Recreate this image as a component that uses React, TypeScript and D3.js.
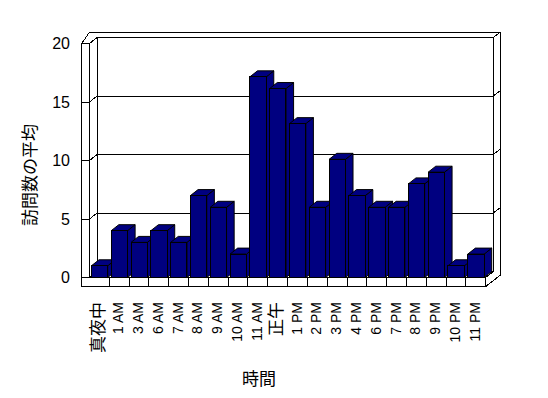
import React from "react";
import * as d3 from "d3";

const categories = ["真夜中", "1 AM", "3 AM", "6 AM", "7 AM", "8 AM", "9 AM", "10 AM", "11 AM", "正午", "1 PM", "2 PM", "3 PM", "4 PM", "6 PM", "7 PM", "8 PM", "9 PM", "10 PM", "11 PM"];
const visits = [1, 4, 3, 4, 3, 7, 6, 2, 17.15, 16.15, 13.15, 6, 10.1, 7, 6, 6, 8, 9, 1, 2];
const yTicks = [0, 5, 10, 15, 20];
const yTitle = "訪問数の平均";
const xTitle = "時間";

const W = 548;
const H = 398;
const DX = 7.6, DY = -6;      // depth of plot
const TX = 6.7, TY = -5.1;    // wall thickness
const LEFT_OUT = 81.7;
const FLOOR_H = 9;
const BAR_FILL = "#000080";

export default function App() {
  const x = d3.scaleBand<string>().domain(categories).range([89.5, 485.7]).padding(0);
  const y = d3.scaleLinear().domain([0, 20]).range([277.5, 43.5]);
  const x0 = x.range()[0];
  const x1 = x.range()[1];
  const y0 = y(0);
  const yTop = y(20);
  const stroke = { stroke: "#000", strokeWidth: 1, fill: "none" } as const;
  const p = (pts: [number, number][]) => pts.map((q) => q.join(",")).join(" ");

  const barW = 16.3;
  const barOff = 1.9;

  return (
    <svg width={W} height={H} style={{ position: "absolute", left: 0, top: 0, background: "#fff" }}
      shapeRendering="crispEdges">
      {/* outer frame */}
      <polygon
        points={p([
          [LEFT_OUT, y0 + FLOOR_H],
          [LEFT_OUT, yTop],
          [LEFT_OUT + DX, yTop + DY + TY],
          [x1 + DX + TX, yTop + DY + TY],
          [x1 + DX + TX, y0 + FLOOR_H + DY + TY],
          [x1, y0 + FLOOR_H],
        ])}
        fill="#fff" stroke="#000" strokeWidth={1}
      />
      {/* left wall front top */}
      <line x1={LEFT_OUT} y1={yTop} x2={x0} y2={yTop} {...stroke} />
      <line x1={x0} y1={yTop} x2={x0} y2={y0} {...stroke} />
      <line x1={x0} y1={yTop} x2={x0 + DX} y2={yTop + DY} {...stroke} />
      {/* back wall */}
      <line x1={x0 + DX} y1={yTop + DY} x2={x1 + DX} y2={yTop + DY} {...stroke} />
      <line x1={x1 + DX} y1={yTop + DY} x2={x1 + DX + TX} y2={yTop + DY + TY} {...stroke} />
      <line x1={x0 + DX} y1={yTop + DY} x2={x0 + DX} y2={y0 + DY} {...stroke} />
      <line x1={x1 + DX} y1={yTop + DY} x2={x1 + DX} y2={y0 + DY} {...stroke} />
      <line x1={x0 + DX} y1={y0 + DY} x2={x1 + DX} y2={y0 + DY} {...stroke} />
      {/* floor */}
      <line x1={x0} y1={y0} x2={x0 + DX} y2={y0 + DY} {...stroke} />
      <line x1={x0} y1={y0} x2={x1} y2={y0} {...stroke} />
      <line x1={x1} y1={y0} x2={x1} y2={y0 + FLOOR_H} {...stroke} />
      <line x1={x1} y1={y0} x2={x1 + DX} y2={y0 + DY} {...stroke} />
      {categories.slice(1).map((c) => (
        <line key={c} x1={x(c)!} y1={y0} x2={x(c)!} y2={y0 + FLOOR_H} {...stroke} />
      ))}
      {/* gridlines and ticks */}
      {yTicks.map((v) => (
        <g key={v}>
          <line x1={LEFT_OUT} y1={y(v)} x2={x0} y2={y(v)} {...stroke} />
          {v > 0 && v < 20 && (
            <>
              <line x1={x0} y1={y(v)} x2={x0 + DX} y2={y(v) + DY} {...stroke} />
              <line x1={x0 + DX} y1={y(v) + DY} x2={x1 + DX} y2={y(v) + DY} {...stroke} />
              <line x1={x1 + DX} y1={y(v) + DY} x2={x1 + DX + TX} y2={y(v) + DY + TY} {...stroke} />
            </>
          )}
          <text x={70} y={y(v)} textAnchor="end" dominantBaseline="central"
            fontFamily="'Liberation Sans', Arial, sans-serif" fontSize={16} fill="#000">
            {v}
          </text>
        </g>
      ))}
      {/* bars */}
      {categories.map((c, i) => {
        const xl = x(c)! + barOff;
        const xr = xl + barW;
        const yt = y(visits[i]);
        return (
          <g key={c} fill={BAR_FILL} stroke="#000" strokeWidth={1} shapeRendering="auto">
            <polygon points={p([[xr, yt], [xr + DX, yt + DY], [xr + DX, y0 + DY], [xr, y0]])} />
            <polygon points={p([[xl, yt], [xr, yt], [xr + DX, yt + DY], [xl + DX, yt + DY]])} />
            <rect x={xl} y={yt} width={barW} height={y0 - yt} shapeRendering="crispEdges" />
          </g>
        );
      })}
      {/* x labels */}
      {categories.map((c) => {
        const cjk = /[^\x00-\x7F]/.test(c);
        const cx = x(c)! + x.bandwidth() / 2 - 1;
        return (
          <text key={c} transform={`translate(${cx},302) rotate(-90)`} textAnchor="end"
            dominantBaseline="central"
            fontFamily="'Liberation Sans', 'Noto Sans CJK JP', sans-serif"
            fontSize={cjk ? 17 : 14} fill="#000">
            {c}
          </text>
        );
      })}
      <text transform="translate(28.5,175) rotate(-90)" textAnchor="middle" dominantBaseline="central"
        fontFamily="'Noto Sans CJK JP', sans-serif" fontSize={17} fill="#000">
        {yTitle}
      </text>
      <text x={259} y={377} textAnchor="middle" dominantBaseline="central"
        fontFamily="'Noto Sans CJK JP', sans-serif" fontSize={17} fill="#000">
        {xTitle}
      </text>
    </svg>
  );
}
